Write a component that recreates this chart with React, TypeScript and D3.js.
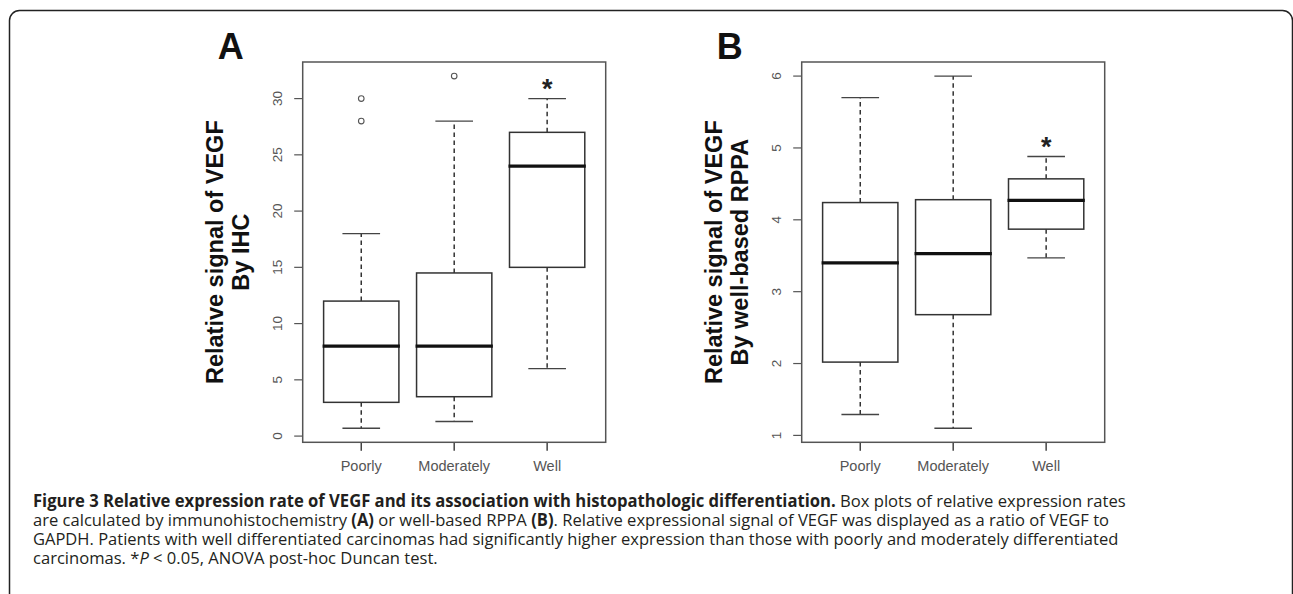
import React, { useLayoutEffect, useRef } from "react";
import * as d3 from "d3";

// groups on the x axis
const categories = ["Poorly", "Moderately", "Well"];

// panel A: relative signal by IHC (lower whisker, Q1, median, Q3, upper whisker)
const ihcLow = [0.7, 1.3, 6];
const ihcQ1 = [3, 3.5, 15];
const ihcMedian = [8, 8, 24];
const ihcQ3 = [12, 14.5, 27];
const ihcHigh = [18, 28, 30];
const ihcOutliers = [[28, 30], [32], []];
const ihcTicks = [0, 5, 10, 15, 20, 25, 30];

// panel B: relative signal by well-based RPPA
const rppaLow = [1.29, 1.1, 3.47];
const rppaQ1 = [2.02, 2.68, 3.87];
const rppaMedian = [3.4, 3.53, 4.27];
const rppaQ3 = [4.24, 4.28, 4.57];
const rppaHigh = [5.7, 6.0, 4.88];
const rppaOutliers = [[], [], []];
const rppaTicks = [1, 2, 3, 4, 5, 6];

// which groups get the significance star
const significant = [false, false, true];

const W = 1293;
const H = 594;
const TOP = 62;
const BOTTOM = 442.3;
const PLOT_W = 303;

const axisFont = "Liberation Sans, Arial, Helvetica, sans-serif";
const captionFont = "'Open Sans', 'Noto Sans', sans-serif";

type PanelProps = {
  left: number;
  letter: string;
  labelLines: string[];
  low: number[];
  q1: number[];
  median: number[];
  q3: number[];
  high: number[];
  outliers: number[][];
  ticks: number[];
};

const Panel = ({ left, letter, labelLines, low, q1, median, q3, high, outliers, ticks }: PanelProps) => {
  const right = left + PLOT_W;

  // R style: 4% padding around data range
  const allVals = [...low, ...high, ...outliers.flat()];
  const lo = d3.min(allVals) as number;
  const hi = d3.max(allVals) as number;
  const pad = (hi - lo) * 0.04;

  const y = d3.scaleLinear().domain([lo - pad, hi + pad]).range([BOTTOM, TOP]);
  const x = d3.scalePoint<string>().domain(categories).range([left, right]).padding(0.63);

  const step = x.step();
  const boxW = step * 0.81;
  const capW = boxW / 2;
  const midY = (TOP + BOTTOM) / 2;

  return (
    <g>
      {/* panel letter */}
      <text x={left - 72} y={58.5} textAnchor="middle" fontFamily={axisFont} fontWeight="bold" fontSize={36} fill="#111">
        {letter}
      </text>

      {/* y axis title (two lines, rotated) */}
      {labelLines.map((line, i) => (
        <text
          key={i}
          transform={`translate(${left - 80 + i * 26},${midY}) rotate(-90)`}
          textAnchor="middle"
          fontFamily={axisFont}
          fontWeight="bold"
          fontSize={23.5}
          fill="#111"
        >
          {line}
        </text>
      ))}

      {/* y ticks */}
      {ticks.map((t) => (
        <g key={t}>
          <line x1={left - 8.5} x2={left} y1={y(t)} y2={y(t)} stroke="#555" strokeWidth={1.2} />
          <text
            transform={`translate(${left - 21},${y(t)}) rotate(-90)`}
            textAnchor="middle"
            fontFamily={axisFont}
            fontSize={13.5}
            fill="#555"
          >
            {t}
          </text>
        </g>
      ))}

      {/* x ticks */}
      {categories.map((c) => (
        <g key={c}>
          <line x1={x(c)} x2={x(c)} y1={BOTTOM} y2={BOTTOM + 8.5} stroke="#444" strokeWidth={1.5} />
          <text x={x(c)} y={471} textAnchor="middle" fontFamily={axisFont} fontSize={14.5} fill="#555">
            {c}
          </text>
        </g>
      ))}

      {/* boxes */}
      {categories.map((c, i) => {
        const cx = x(c) as number;
        return (
          <g key={c}>
            <line x1={cx} x2={cx} y1={y(q3[i])} y2={y(high[i])} stroke="#333" strokeWidth={1.5} strokeDasharray="4.5,3.5" />
            <line x1={cx} x2={cx} y1={y(q1[i])} y2={y(low[i])} stroke="#333" strokeWidth={1.5} strokeDasharray="4.5,3.5" />
            <line x1={cx - capW / 2} x2={cx + capW / 2} y1={y(high[i])} y2={y(high[i])} stroke="#444" strokeWidth={1.4} />
            <line x1={cx - capW / 2} x2={cx + capW / 2} y1={y(low[i])} y2={y(low[i])} stroke="#444" strokeWidth={1.4} />
            <rect
              x={cx - boxW / 2}
              y={y(q3[i])}
              width={boxW}
              height={y(q1[i]) - y(q3[i])}
              fill="#fff"
              stroke="#333"
              strokeWidth={1.5}
            />
            <line x1={cx - boxW / 2 - 1} x2={cx + boxW / 2 + 1} y1={y(median[i])} y2={y(median[i])} stroke="#111" strokeWidth={3.2} />
            {outliers[i].map((o, j) => (
              <circle key={j} cx={cx} cy={y(o)} r={2.8} fill="none" stroke="#555" strokeWidth={1.1} />
            ))}
            {significant[i] && (
              <text x={cx} y={y(high[i]) - 16 + 0.57 * 27} textAnchor="middle" fontFamily={axisFont} fontWeight="bold" fontSize={27} fill="#222">
                *
              </text>
            )}
          </g>
        );
      })}

      {/* plot frame */}
      <rect x={left} y={TOP} width={PLOT_W} height={BOTTOM - TOP} fill="none" stroke="#555" strokeWidth={1.5} />
    </g>
  );
};

const captionX = 33;
// right ends of the caption lines (last line gets the paragraph's average squeeze)
const captionEnds = [1127, 1110, 1119];
const captionBaselines = [506.5, 525.5, 544.5, 563.5];

const App = () => {
  const lineRefs = useRef<(SVGTextElement | null)[]>([]);

  // squeeze each caption line horizontally so it ends where the printed line ends
  useLayoutEffect(() => {
    const els = lineRefs.current;
    const scales: number[] = [];
    els.forEach((el, i) => {
      if (!el) return;
      const natural = el.getComputedTextLength();
      const s = i < captionEnds.length ? (captionEnds[i] - captionX) / natural : (d3.mean(scales) as number);
      scales.push(s);
      d3.select(el).attr("transform", `translate(${captionX},${captionBaselines[i]}) scale(${s},1)`);
    });
  }, []);

  const setRef = (i: number) => (el: SVGTextElement | null) => {
    lineRefs.current[i] = el;
  };

  return (
    <svg
      width={W}
      height={H}
      style={{ position: "absolute", left: 0, top: 0, background: "#fff" }}
    >
      {/* figure frame with rounded top corners */}
      <path
        d={`M9.5,${H} V20.5 A10,10 0 0 1 19.5,10.5 H1282.5 A10,10 0 0 1 1292.5,20.5 V${H}`}
        fill="none"
        stroke="#222"
        strokeWidth={1.5}
      />

      <Panel
        left={302.7}
        letter="A"
        labelLines={["Relative signal of VEGF", "By IHC"]}
        low={ihcLow}
        q1={ihcQ1}
        median={ihcMedian}
        q3={ihcQ3}
        high={ihcHigh}
        outliers={ihcOutliers}
        ticks={ihcTicks}
      />
      <Panel
        left={801.7}
        letter="B"
        labelLines={["Relative signal of VEGF", "By well-based RPPA"]}
        low={rppaLow}
        q1={rppaQ1}
        median={rppaMedian}
        q3={rppaQ3}
        high={rppaHigh}
        outliers={rppaOutliers}
        ticks={rppaTicks}
      />

      {/* caption */}
      <g fontFamily={captionFont} fontSize={17} fill="#231f20">
        <text ref={setRef(0)} transform={`translate(${captionX},${captionBaselines[0]})`}>
          <tspan fontWeight="bold">
            Figure 3 Relative expression rate of VEGF and its association with histopathologic differentiation.
          </tspan>
          <tspan> Box plots of relative expression rates</tspan>
        </text>
        <text ref={setRef(1)} transform={`translate(${captionX},${captionBaselines[1]})`}>
          <tspan>are calculated by immunohistochemistry </tspan>
          <tspan fontWeight="bold">(A)</tspan>
          <tspan> or well-based RPPA </tspan>
          <tspan fontWeight="bold">(B)</tspan>
          <tspan>. Relative expressional signal of VEGF was displayed as a ratio of VEGF to</tspan>
        </text>
        <text ref={setRef(2)} transform={`translate(${captionX},${captionBaselines[2]})`}>
          GAPDH. Patients with well differentiated carcinomas had significantly higher expression than those with poorly and moderately differentiated
        </text>
        <text ref={setRef(3)} transform={`translate(${captionX},${captionBaselines[3]})`}>
          <tspan>carcinomas. *</tspan>
          <tspan fontStyle="italic">P</tspan>
          <tspan> &lt; 0.05, ANOVA post-hoc Duncan test.</tspan>
        </text>
      </g>
    </svg>
  );
};

export default App;
